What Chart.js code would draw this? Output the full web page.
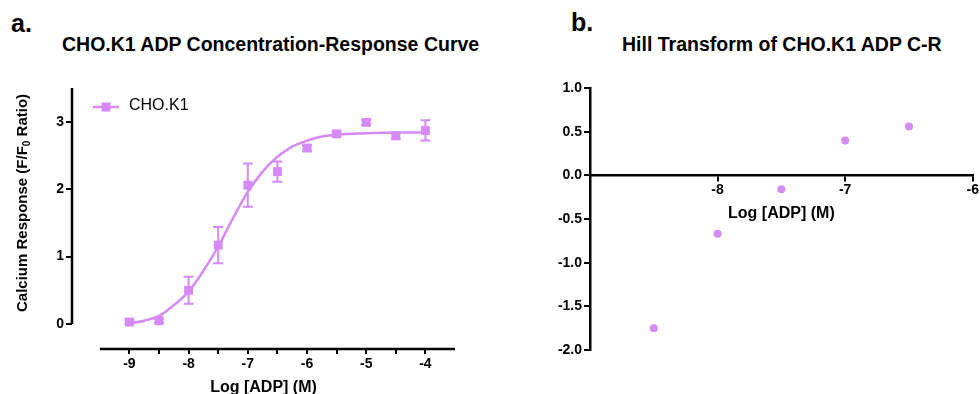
<!DOCTYPE html>
<html>
<head>
<meta charset="utf-8">
<script src="https://cdn.jsdelivr.net/npm/chart.js@4.4.0/dist/chart.umd.min.js"></script>
<style>
body { margin: 0; background: #fff; width: 980px; height: 394px; position: relative; overflow: hidden; font-family: "Liberation Sans", Arial, sans-serif; color: #000; }
.panel { position: absolute; top: 0; height: 394px; }
#boxA { left: 0; width: 520px; }
#boxB { left: 540px; width: 440px; }
.letter { position: absolute; font-weight: bold; font-size: 25px; line-height: 1; }
.heading { position: absolute; font-weight: bold; font-size: 19.5px; line-height: 1; white-space: nowrap; }
</style>
</head>
<body>
<div class="letter" style="left:11px;top:11px;">a.</div>
<div class="heading" style="left:62px;top:35px;">CHO.K1 ADP Concentration-Response Curve</div>
<div class="letter" style="left:571px;top:10px;">b.</div>
<div class="heading" style="left:622px;top:35px;">Hill Transform of CHO.K1 ADP C-R</div>

<div class="panel" id="boxA"><canvas id="chartA"></canvas></div>
<div class="panel" id="boxB"><canvas id="chartB"></canvas></div>

<script>
// panel a: concentration-response data (log molar)
const doses = [-9, -8.5, -8, -7.5, -7, -6.5, -6, -5.5, -5, -4.5, -4];
const response = [0.03, 0.05, 0.50, 1.17, 2.06, 2.26, 2.61, 2.82, 2.99, 2.79, 2.87];
const responseErr = [0.03, 0.03, 0.20, 0.27, 0.32, 0.15, 0.04, 0.04, 0.04, 0.04, 0.15];

// fitted curve
const fitX = [-9, -8.75, -8.5, -8.25, -8, -7.75, -7.5, -7.25, -7, -6.75, -6.5, -6.25, -6, -5.75, -5.5, -5, -4.5, -4];
const fitY = [0.01, 0.05, 0.12, 0.28, 0.48, 0.79, 1.15, 1.57, 1.96, 2.26, 2.48, 2.63, 2.72, 2.78, 2.81, 2.83, 2.84, 2.84];

const ticksA_x = [-9, -8.5, -8, -7.5, -7, -6.5, -6, -5.5, -5, -4.5, -4];
const ticksA_y = [0, 1, 2, 3];

// panel b: Hill transform
const hillX = [-8.5, -8, -7.5, -7, -6.5];
const hillY = [-1.75, -0.67, -0.16, 0.40, 0.56];

const violet = '#d68af7';
const tickFont = { family: '"Liberation Sans", Arial, sans-serif', size: 14, weight: 'bold' };
const titleFont = { family: '"Liberation Sans", Arial, sans-serif', size: 16, weight: 'bold' };

const errorBars = {
    id: 'errorBars',
    beforeDatasetsDraw(chart) {
        const { ctx, scales: { x, y } } = chart;
        ctx.save();
        ctx.strokeStyle = violet;
        ctx.lineWidth = 2;
        doses.forEach((d, i) => {
            const px = x.getPixelForValue(d);
            const top = y.getPixelForValue(response[i] + responseErr[i]);
            const bot = y.getPixelForValue(response[i] - responseErr[i]);
            ctx.beginPath();
            ctx.moveTo(px, top); ctx.lineTo(px, bot);
            ctx.moveTo(px - 5, top); ctx.lineTo(px + 5, top);
            ctx.moveTo(px - 5, bot); ctx.lineTo(px + 5, bot);
            ctx.stroke();
        });
        ctx.restore();
    }
};

// detached axis lines, legend and y title with subscript
const panelA = {
    id: 'panelA',
    afterDraw(chart) {
        const { ctx, chartArea, scales: { x, y } } = chart;
        ctx.save();
        ctx.strokeStyle = '#000';
        ctx.lineWidth = 2.5;
        ctx.beginPath();
        ctx.moveTo(chartArea.left, y.getPixelForValue(0));
        ctx.lineTo(chartArea.left, y.getPixelForValue(3.5));
        ctx.moveTo(x.getPixelForValue(-9.5), chartArea.bottom);
        ctx.lineTo(x.getPixelForValue(-3.5), chartArea.bottom);
        ctx.stroke();

        // legend
        ctx.strokeStyle = violet;
        ctx.lineWidth = 2.5;
        ctx.beginPath();
        ctx.moveTo(93, 107); ctx.lineTo(119, 107);
        ctx.stroke();
        ctx.fillStyle = violet;
        ctx.fillRect(101.5, 102.5, 9, 9);
        ctx.fillStyle = '#000';
        ctx.font = '16px "Liberation Sans", Arial, sans-serif';
        ctx.textBaseline = 'middle';
        ctx.fillText(chart.data.datasets[1].label, 129, 106);

        // y title
        const big = 'bold 15px "Liberation Sans", Arial, sans-serif';
        const small = 'bold 10px "Liberation Sans", Arial, sans-serif';
        const parts = [['Calcium Response (F/F', big, 0], ['0', small, 4], [' Ratio)', big, 0]];
        let total = 0;
        parts.forEach(p => { ctx.font = p[1]; total += ctx.measureText(p[0]).width; });
        ctx.translate(23, 203);
        ctx.rotate(-Math.PI / 2);
        let cx = -total / 2;
        ctx.textBaseline = 'middle';
        parts.forEach(p => {
            ctx.font = p[1];
            ctx.fillText(p[0], cx, p[2]);
            cx += ctx.measureText(p[0]).width;
        });
        ctx.restore();
    }
};

new Chart(document.getElementById('chartA'), {
    data: {
        datasets: [{
            type: 'line',
            label: 'fit',
            data: fitX.map((v, i) => ({ x: v, y: fitY[i] })),
            borderColor: violet,
            borderWidth: 2.5,
            pointRadius: 0,
            cubicInterpolationMode: 'monotone',
            fill: false
        }, {
            type: 'scatter',
            label: 'CHO.K1',
            data: doses.map((v, i) => ({ x: v, y: response[i] })),
            backgroundColor: violet,
            borderWidth: 0,
            pointStyle: 'rect',
            pointRadius: 6.3
        }]
    },
    options: {
        responsive: true,
        maintainAspectRatio: false,
        animation: false,
        layout: { padding: { top: 88, right: 65, left: 0, bottom: 0 } },
        plugins: { legend: { display: false }, tooltip: { enabled: false } },
        scales: {
            x: {
                type: 'linear',
                min: -9.97,
                max: -3.5,
                border: { display: false },
                grid: { drawOnChartArea: false, color: '#000', lineWidth: 2, tickLength: 5 },
                afterBuildTicks: scale => { scale.ticks = ticksA_x.map(v => ({ value: v })); },
                afterFit: scale => { scale.height = 45; },
                ticks: {
                    color: '#000', font: tickFont, padding: 2, maxRotation: 0, autoSkip: false,
                    callback: v => Number.isInteger(v) ? String(v) : ''
                },
                title: { display: true, text: 'Log [ADP] (M)', color: '#000', font: titleFont, padding: { top: 0, bottom: -3 } }
            },
            y: {
                min: -0.37,
                max: 3.5,
                border: { display: false },
                grid: { drawOnChartArea: false, color: '#000', lineWidth: 2, tickLength: 6 },
                afterBuildTicks: scale => { scale.ticks = ticksA_y.map(v => ({ value: v })); },
                afterFit: scale => { scale.width = 72; },
                ticks: { color: '#000', font: tickFont, padding: 2 }
            }
        }
    },
    plugins: [errorBars, panelA]
});

new Chart(document.getElementById('chartB'), {
    type: 'scatter',
    data: {
        datasets: [{
            label: 'Hill',
            data: hillX.map((v, i) => ({ x: v, y: hillY[i] })),
            backgroundColor: violet,
            borderWidth: 0,
            pointRadius: 4
        }]
    },
    options: {
        responsive: true,
        maintainAspectRatio: false,
        animation: false,
        layout: { padding: { top: 88, right: 7, left: 0, bottom: 44 } },
        plugins: { legend: { display: false }, tooltip: { enabled: false } },
        scales: {
            x: {
                type: 'linear',
                position: { y: 0 },
                min: -9,
                max: -6,
                border: { display: true, color: '#000', width: 2.5 },
                grid: { drawOnChartArea: false, color: '#000', lineWidth: 2, tickLength: 5 },
                afterFit: scale => { scale.height = 45; },
                ticks: {
                    stepSize: 1, color: '#000', font: tickFont, padding: 1, maxRotation: 0,
                    callback: v => v === -9 ? '' : String(v)
                },
                title: { display: true, text: 'Log [ADP] (M)', color: '#000', font: titleFont, padding: { top: 0, bottom: -3 } }
            },
            y: {
                min: -2,
                max: 1,
                border: { display: true, color: '#000', width: 2.5 },
                grid: { drawOnChartArea: false, color: '#000', lineWidth: 2, tickLength: 6 },
                afterFit: scale => { scale.width = 50; },
                ticks: { stepSize: 0.5, color: '#000', font: tickFont, padding: 2, callback: v => v.toFixed(1) }
            }
        }
    }
});
</script>
</body>
</html>
